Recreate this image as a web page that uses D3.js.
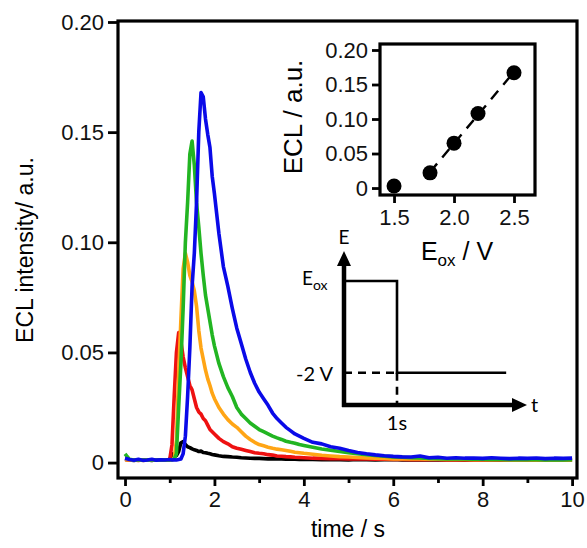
<!DOCTYPE html>
<html>
<head>
<meta charset="utf-8">
<script src="https://cdn.jsdelivr.net/npm/d3@7"></script>
<style>
  body { margin: 0; background: #fff; }
  svg { display: block; font-family: "Liberation Sans", Arial, sans-serif; }
</style>
</head>
<body>
<script>
const W = 587, H = 548

// time axis shared by every transient (s)
const time = [0,0.1,0.2,0.3,0.4,0.5,0.6,0.7,0.8,0.9,1.0,
  1.05,1.1,1.15,1.2,1.25,1.3,1.35,1.4,1.45,1.5,1.55,1.6,1.65,1.7,1.75,1.8,1.85,1.9,1.95,2.0,
  2.1,2.2,2.3,2.4,2.5,2.6,2.7,2.8,2.9,3.0,3.1,3.2,3.3,3.4,3.5,3.6,3.7,3.8,3.9,4.0,
  4.2,4.4,4.6,4.8,5.0,5.2,5.4,5.6,5.8,6.0,6.2,6.4,6.6,6.8,7.0,7.2,7.4,7.6,7.8,8.0,8.2,8.4,8.6,8.8,9.0,9.2,9.4,9.6,9.8,10.0]

// ECL intensity (a.u.) for each oxidation pulse
const ecl15 = [0.0015,0.0012,0.0010,0.0013,0.0011,0.0012,0.0010,0.0013,0.0011,0.0012,0.0013,
  0.0040,0.0030,0.0032,0.0050,0.0090,0.0095,0.0082,0.0072,0.0068,0.0062,0.0058,0.0055,0.0050,0.0052,0.0046,0.0045,0.0042,0.0040,0.0037,0.0035,
  0.0031,0.0028,0.0027,0.0025,0.0024,0.0022,0.0021,0.0020,0.0019,0.0019,0.0018,0.0017,0.0018,0.0016,0.0016,0.0015,0.0016,0.0015,0.0014,0.0015,
  0.0014,0.0013,0.0014,0.0013,0.0012,0.0014,0.0013,0.0012,0.0013,0.0014,0.0012,0.0013,0.0012,0.0013,0.0012,0.0013,0.0012,0.0011,0.0012,0.0013,0.0012,0.0011,0.0012,0.0012,0.0011,0.0012,0.0011,0.0012,0.0011,0.0012]
const ecl18 = [0.0014,0.0011,0.0012,0.0010,0.0013,0.0011,0.0012,0.0011,0.0013,0.0012,0.0014,
  0.0080,0.0300,0.0500,0.0590,0.0550,0.0480,0.0430,0.0390,0.0350,0.0330,0.0290,0.0250,0.0230,0.0220,0.0200,0.0190,0.0170,0.0150,0.0140,0.0130,
  0.0110,0.0095,0.0085,0.0072,0.0065,0.0060,0.0055,0.0050,0.0045,0.0042,0.0040,0.0036,0.0034,0.0030,0.0029,0.0027,0.0026,0.0024,0.0023,0.0022,
  0.0020,0.0019,0.0018,0.0018,0.0017,0.0016,0.0016,0.0015,0.0015,0.0014,0.0014,0.0013,0.0014,0.0013,0.0013,0.0012,0.0013,0.0012,0.0012,0.0013,0.0012,0.0012,0.0011,0.0012,0.0012,0.0011,0.0012,0.0011,0.0012,0.0011]
const ecl20 = [0.0013,0.0012,0.0011,0.0013,0.0010,0.0012,0.0011,0.0013,0.0012,0.0011,0.0013,
  0.0013,0.0020,0.0100,0.0400,0.0650,0.0880,0.0950,0.0910,0.0850,0.0820,0.0780,0.0710,0.0600,0.0520,0.0470,0.0420,0.0380,0.0350,0.0315,0.0290,
  0.0250,0.0220,0.0195,0.0175,0.0160,0.0140,0.0120,0.0105,0.0092,0.0082,0.0076,0.0070,0.0065,0.0061,0.0058,0.0055,0.0051,0.0047,0.0045,0.0042,
  0.0038,0.0033,0.0030,0.0027,0.0025,0.0023,0.0021,0.0020,0.0019,0.0017,0.0017,0.0016,0.0016,0.0015,0.0015,0.0014,0.0015,0.0014,0.0013,0.0014,0.0013,0.0013,0.0012,0.0013,0.0012,0.0013,0.0012,0.0012,0.0013,0.0012]
const ecl22 = [0.0040,0.0015,0.0012,0.0013,0.0011,0.0012,0.0013,0.0011,0.0012,0.0013,0.0012,
  0.0013,0.0015,0.0040,0.0250,0.0450,0.0700,0.1000,0.1180,0.1400,0.1460,0.1350,0.1180,0.1070,0.0950,0.0850,0.0760,0.0700,0.0640,0.0580,0.0530,
  0.0450,0.0390,0.0340,0.0300,0.0250,0.0220,0.0200,0.0180,0.0165,0.0150,0.0140,0.0130,0.0120,0.0112,0.0105,0.0097,0.0092,0.0088,0.0082,0.0078,
  0.0070,0.0062,0.0056,0.0050,0.0045,0.0040,0.0036,0.0032,0.0029,0.0026,0.0024,0.0022,0.0021,0.0019,0.0018,0.0017,0.0016,0.0016,0.0015,0.0015,0.0014,0.0014,0.0013,0.0014,0.0013,0.0013,0.0012,0.0013,0.0012,0.0013]
const ecl25 = [0.0020,0.0014,0.0011,0.0015,0.0010,0.0012,0.0015,0.0011,0.0013,0.0012,0.0014,
  0.0012,0.0013,0.0012,0.0014,0.0016,0.0040,0.0120,0.0300,0.0520,0.0800,0.0950,0.1180,0.1500,0.1680,0.1660,0.1560,0.1490,0.1430,0.1300,0.1220,
  0.1040,0.0890,0.0800,0.0700,0.0610,0.0540,0.0470,0.0410,0.0360,0.0320,0.0290,0.0260,0.0225,0.0200,0.0180,0.0160,0.0145,0.0130,0.0120,0.0110,
  0.0092,0.0085,0.0072,0.0065,0.0055,0.0046,0.0040,0.0035,0.0031,0.0028,0.0026,0.0025,0.0030,0.0022,0.0024,0.0020,0.0022,0.0020,0.0021,0.0019,0.0022,0.0020,0.0018,0.0020,0.0019,0.0021,0.0018,0.0020,0.0019,0.0020]

const traceColors = ['#000000', '#ee1111', '#ffa515', '#22b522', '#0a0ae8']
const traces = [ecl15, ecl18, ecl20, ecl22, ecl25]

// inset: peak ECL vs oxidation potential
const potentials = [1.5, 1.8, 2.0, 2.2, 2.5]
const peakECL = [0.003, 0.022, 0.065, 0.108, 0.167]

const xTicks = [0, 2, 4, 6, 8, 10]
const xMinor = [1, 3, 5, 7, 9]
const yTicks = [0, 0.05, 0.10, 0.15, 0.20]
const insetXTicks = [1.5, 2.0, 2.5]
const insetYTicks = [0, 0.05, 0.10, 0.15, 0.20]

// potential step schematic: t (s), E (relative level)
const pulseT = [0, 1, 1, 3.06]
const pulseE = [1, 1, 0.26, 0.26]

const svg = d3.select('body').append('svg')
  .attr('width', W)
  .attr('height', H)

const fmtY = d => d === 0 ? '0' : d3.format('.2f')(d)

// ---------- main plot ----------
const frame = { l: 118, r: 577, t: 21, b: 478 }
const x = d3.scaleLinear().domain([-0.157, 10.11]).range([frame.l, frame.r])
const y = d3.scaleLinear().domain([-0.007, 0.2]).range([frame.b, 22])

const line = d3.line()
  .x((d, i) => x(time[i]))
  .y(d => y(d))

svg.append('g')
  .selectAll('path')
  .data(traces)
  .enter()
  .append('path')
  .attr('d', d => line(d))
  .attr('fill', 'none')
  .attr('stroke', (d, i) => traceColors[i])
  .attr('stroke-width', 3.6)
  .attr('stroke-linejoin', 'round')

const xAxis = svg.append('g')
  .attr('transform', `translate(0, ${frame.b})`)
  .call(d3.axisBottom(x).tickValues(xTicks).tickSize(8).tickPadding(5).tickFormat(d3.format('d')))
svg.append('g')
  .attr('transform', `translate(0, ${frame.b})`)
  .call(d3.axisBottom(x).tickValues(xMinor).tickSize(5).tickFormat(''))

const yAxis = svg.append('g')
  .attr('transform', `translate(${frame.l}, 0)`)
  .call(d3.axisLeft(y).tickValues(yTicks).tickSize(10).tickPadding(4).tickFormat(fmtY))

svg.selectAll('.domain').remove()
svg.selectAll('.tick line').attr('stroke', '#000').attr('stroke-width', 2.8)
xAxis.selectAll('text').style('font-size', '22px').attr('fill', '#111')
yAxis.selectAll('text').style('font-size', '22px').attr('fill', '#111')

svg.append('rect')
  .attr('x', frame.l).attr('y', frame.t)
  .attr('width', frame.r - frame.l).attr('height', frame.b - frame.t)
  .attr('fill', 'none').attr('stroke', '#000').attr('stroke-width', 3.2)

svg.append('text')
  .attr('x', 348).attr('y', 537)
  .attr('text-anchor', 'middle')
  .style('font-size', '23px')
  .text('time / s')

svg.append('text')
  .attr('transform', 'translate(33, 250) rotate(-90)')
  .attr('text-anchor', 'middle')
  .style('font-size', '23px')
  .text('ECL intensity/ a.u.')

// ---------- inset ----------
const inset = { l: 380, r: 535, t: 44, b: 195 }
const ix = d3.scaleLinear().domain([1.383, 2.675]).range([inset.l, inset.r])
const iy = d3.scaleLinear().domain([-0.0101, 0.2087]).range([inset.b, inset.t])

const g = svg.append('g')

g.append('g')
  .attr('transform', `translate(0, ${inset.b})`)
  .call(d3.axisBottom(ix).tickValues(insetXTicks).tickSize(8).tickPadding(6).tickFormat(d3.format('.1f')))
g.append('g')
  .attr('transform', `translate(${inset.l}, 0)`)
  .call(d3.axisLeft(iy).tickValues(insetYTicks).tickSize(8).tickPadding(4).tickFormat(fmtY))
g.selectAll('.domain').remove()
g.selectAll('.tick line').attr('stroke', '#000').attr('stroke-width', 2.8)
g.selectAll('.tick text').style('font-size', '22px').attr('fill', '#111')

g.append('rect')
  .attr('x', inset.l).attr('y', inset.t)
  .attr('width', inset.r - inset.l).attr('height', inset.b - inset.t)
  .attr('fill', 'none').attr('stroke', '#000').attr('stroke-width', 3.2)

// linear fit through the four upper points
const fx = potentials.slice(1), fy = peakECL.slice(1)
const mx = d3.mean(fx), my = d3.mean(fy)
const slope = d3.sum(fx, (v, i) => (v - mx) * (fy[i] - my)) / d3.sum(fx, v => (v - mx) ** 2)
const icpt = my - slope * mx
g.append('line')
  .attr('x1', ix(1.8)).attr('y1', iy(icpt + slope * 1.8))
  .attr('x2', ix(2.5)).attr('y2', iy(icpt + slope * 2.5))
  .attr('stroke', '#000').attr('stroke-width', 2.4)
  .attr('stroke-dasharray', '11,8')

g.selectAll('circle')
  .data(potentials)
  .enter()
  .append('circle')
  .attr('cx', d => ix(d))
  .attr('cy', (d, i) => iy(peakECL[i]))
  .attr('r', 7.5)
  .attr('fill', '#000')

g.append('text')
  .attr('transform', 'translate(302, 117) rotate(-90)')
  .attr('text-anchor', 'middle')
  .style('font-size', '26px')
  .text('ECL / a.u.')

const eoxLabel = g.append('text')
  .attr('x', 457).attr('y', 260)
  .attr('text-anchor', 'middle')
  .style('font-size', '25px')
eoxLabel.append('tspan').text('E')
eoxLabel.append('tspan').attr('dy', 6).style('font-size', '17px').text('ox')
eoxLabel.append('tspan').attr('dy', -6).text(' / V')

// ---------- potential step schematic ----------
const px = d3.scaleLinear().domain([0, 1]).range([344, 397])
const py = d3.scaleLinear().domain([0, 1]).range([405, 281])
const sg = svg.append('g').style('font-family', 'Lato, "Open Sans", sans-serif')

sg.append('path')
  .attr('d', d3.line().x((d, i) => px(pulseT[i])).y(d => py(d))(pulseE))
  .attr('fill', 'none').attr('stroke', '#000').attr('stroke-width', 2.6)

sg.append('line')
  .attr('x1', px(0)).attr('x2', px(1))
  .attr('y1', py(pulseE[2])).attr('y2', py(pulseE[2]))
  .attr('stroke', '#000').attr('stroke-width', 2.6).attr('stroke-dasharray', '8,6')
sg.append('line')
  .attr('x1', px(1)).attr('x2', px(1))
  .attr('y1', py(pulseE[2])).attr('y2', py(0))
  .attr('stroke', '#000').attr('stroke-width', 2.6).attr('stroke-dasharray', '8,6')

// axes with arrow heads
sg.append('line')
  .attr('x1', px(0)).attr('y1', py(0) + 2)
  .attr('x2', px(0)).attr('y2', 264)
  .attr('stroke', '#000').attr('stroke-width', 4.5)
sg.append('path')
  .attr('d', `M${px(0) - 7},266 L${px(0)},251 L${px(0) + 7},266 Z`)
  .attr('fill', '#000')
sg.append('line')
  .attr('x1', px(0) - 2).attr('y1', py(0))
  .attr('x2', 514).attr('y2', py(0))
  .attr('stroke', '#000').attr('stroke-width', 4.5)
sg.append('path')
  .attr('d', `M512,${py(0) - 7} L527,${py(0)} L512,${py(0) + 7} Z`)
  .attr('fill', '#000')

sg.append('text').attr('x', px(0)).attr('y', 244).attr('text-anchor', 'middle')
  .style('font-size', '19px').text('E')
sg.append('text').attr('x', 531).attr('y', 412)
  .style('font-size', '20px').text('t')
sg.append('text').attr('x', px(1)).attr('y', 430).attr('text-anchor', 'middle')
  .style('font-size', '20px').text('1s')
sg.append('text').attr('x', 333).attr('y', 381).attr('text-anchor', 'end')
  .style('font-size', '20px').text('-2 V')
const eox = sg.append('text').attr('x', 302).attr('y', 285).style('font-size', '19px')
eox.append('tspan').text('E')
eox.append('tspan').attr('dy', 5).style('font-size', '14px').text('ox')
</script>
</body>
</html>
